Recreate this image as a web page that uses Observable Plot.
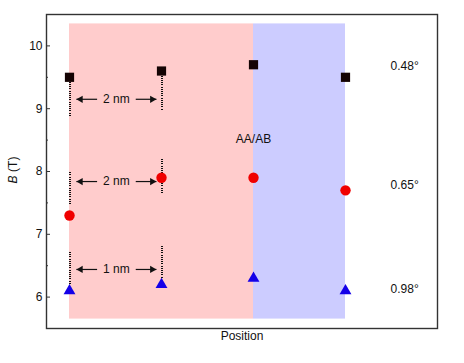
<!DOCTYPE html>
<html>
<head>
<meta charset="utf-8">
<script src="https://cdn.jsdelivr.net/npm/d3@7"></script>
<script src="https://cdn.jsdelivr.net/npm/@observablehq/plot@0.6"></script>
<style>
  body { margin: 0; background: #fff; }
  svg { display: block; }
</style>
</head>
<body>
<div id="chart"></div>
<script>
// ---- data ----
const positions = [0, 1, 2, 3];
const squareB = [9.5, 9.6, 9.7, 9.5];     // 0.48°
const circleB = [7.3, 7.9, 7.9, 7.7];     // 0.65°
const triangleB = [6.1, 6.2, 6.3, 6.1];   // 0.98°
const angleLabels = ["0.48°", "0.65°", "0.98°"];
const angleLabelY = [9.67, 7.79, 6.13];
const yTicks = [6, 7, 8, 9, 10];
const yMinorTicks = [5.5, 6.5, 7.5, 8.5, 9.5, 10.5];
// shaded regions
const regionX1 = [0, 2];
const regionX2 = [2, 3];
const regionFill = ["#ffcccc", "#ccccff"];
const regionY = [5.65, 10.35];
// dotted guide lines
const guideX = [0, 1, 0, 1, 0, 1];
const guideTop = [9.42, 9.52, 7.98, 8.19, 6.71, 6.81];
const guideBottom = [8.88, 8.97, 7.46, 7.65, 6.20, 6.30];
// distance annotations
const distLabels = ["2 nm", "2 nm", "1 nm"];
const distY = [9.15, 7.84, 6.44];

const regions = regionX1.map((x1, i) => ({x1, x2: regionX2[i], fill: regionFill[i]}));
const guides = guideX.map((x, i) => ({x, y1: guideTop[i], y2: guideBottom[i]}));
const arrows = [];
distY.forEach((y) => {
  arrows.push({x1: 0.30, x2: 0.075, y, dir: -1});
  arrows.push({x1: 0.72, x2: 0.945, y, dir: 1});
});
const dists = distLabels.map((t, i) => ({x: 0.51, y: distY[i], t}));
const pts = (vals) => positions.map((p, i) => ({x: p, y: vals[i]}));

const font = "'Liberation Sans', Arial, Helvetica, sans-serif";
const headR = 2.7;
const headOffset = headR * Math.sqrt(4 * Math.PI / Math.sqrt(3)) * Math.sqrt(3) / 2 * 2 / 3;

const chart = Plot.plot({
  width: 464,
  height: 363,
  marginLeft: 46,
  marginRight: 27,
  marginTop: 14,
  marginBottom: 35,
  style: {fontFamily: font, fontSize: "12px", color: "#111", background: "#fff"},
  x: {domain: [-0.25, 4.0], axis: null},
  y: {domain: [5.5, 10.5]},
  marks: [
    Plot.rect(regions, {x1: "x1", x2: "x2", y1: regionY[0], y2: regionY[1], fill: "fill"}),
    Plot.ruleX(guides, {x: "x", y1: "y1", y2: "y2", stroke: "#111", strokeWidth: 2, strokeDasharray: "1 1.2", shapeRendering: "crispEdges"}),
    Plot.link(arrows, {x1: "x1", x2: "x2", y1: "y", y2: "y", stroke: "#111", strokeWidth: 1.2}),
    Plot.dot(arrows.filter(d => d.dir < 0), {x: "x2", y: "y", symbol: "triangle", r: headR, rotate: -90, dx: headOffset, fill: "#111"}),
    Plot.dot(arrows.filter(d => d.dir > 0), {x: "x2", y: "y", symbol: "triangle", r: headR, rotate: 90, dx: -headOffset, fill: "#111"}),
    Plot.text(dists, {x: "x", y: "y", text: "t", fontSize: 12, fill: "#111"}),
    Plot.dot(pts(squareB), {x: "x", y: "y", symbol: "square", r: 5.2, fill: "#140303"}),
    Plot.dot(pts(circleB), {x: "x", y: "y", symbol: "circle", r: 5.2, fill: "#f00000"}),
    Plot.dot(pts(triangleB), {x: "x", y: "y", symbol: "triangle", r: 4.4, fill: "#1400e8"}),
    Plot.text(angleLabels, {x: 3.49, y: (d, i) => angleLabelY[i], text: d => d, textAnchor: "start", fontSize: 12, fill: "#111"}),
    Plot.text(["AA/AB"], {x: 2, y: 8.52, text: d => d, fontSize: 12, fill: "#111"}),
    Plot.axisY(yTicks, {anchor: "left", tickSize: -4, text: null, stroke: "#333"}),
    Plot.axisY(yMinorTicks, {anchor: "left", tickSize: -2, text: null, stroke: "#333"}),
    Plot.axisY(yTicks, {anchor: "left", tickSize: 0, tickPadding: 4, tickFormat: "d", label: null, fontSize: 12, fill: "#111"}),
    Plot.frame({stroke: "#333", strokeWidth: 1.4}),
    Plot.text(["Position"], {frameAnchor: "bottom", dy: 11, text: d => d, fontSize: 12, fill: "#111"}),
    Plot.text(["B"], {frameAnchor: "left", y: 7.81, dx: -33, rotate: -90, textAnchor: "start", text: d => d, fontSize: 12, fontStyle: "italic", fill: "#111"}),
    Plot.text([" (T)"], {frameAnchor: "left", y: 7.94, dx: -33, rotate: -90, textAnchor: "start", text: d => d, fontSize: 12, fill: "#111"})
  ]
});
document.getElementById("chart").appendChild(chart);
</script>
</body>
</html>
